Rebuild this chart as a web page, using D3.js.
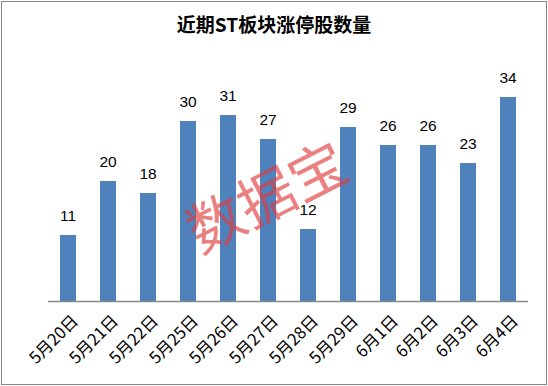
<!DOCTYPE html>
<html>
<head>
<meta charset="utf-8">
<script src="https://cdn.jsdelivr.net/npm/d3@7"></script>
<style>
  body { margin: 0; background: #fff; }
  svg { display: block; }
</style>
</head>
<body>
<script>
const categories = ["5月20日", "5月21日", "5月22日", "5月25日", "5月26日", "5月27日",
    "5月28日", "5月29日", "6月1日", "6月2日", "6月3日", "6月4日"];
const values = [11, 20, 18, 30, 31, 27, 12, 29, 26, 26, 23, 34];
const title = "近期ST板块涨停股数量";
const watermark = "数据宝";

const width = 548, height = 386;
const plot = { left: 48, right: 528, top: 91, bottom: 301 };

const svg = d3.select("body").append("svg")
    .attr("width", width)
    .attr("height", height);

svg.append("rect")
    .attr("x", 1.5).attr("y", 1.5)
    .attr("width", width - 3).attr("height", height - 3)
    .attr("fill", "#fff")
    .attr("stroke", "#868686");

const x = d3.scaleBand()
    .domain(categories)
    .range([plot.left, plot.right])
    .paddingInner(0.6)
    .paddingOuter(0.3);

const y = d3.scaleLinear()
    .domain([0, 35])
    .range([plot.bottom, plot.top]);

// bars
svg.selectAll("rect.bar")
    .data(values)
    .enter()
    .append("rect")
    .classed("bar", true)
    .attr("x", (d, i) => x(categories[i]))
    .attr("y", d => y(d))
    .attr("width", x.bandwidth())
    .attr("height", d => y(0) - y(d))
    .attr("fill", "#4f81bd");

// value labels
svg.selectAll("text.value")
    .data(values)
    .enter()
    .append("text")
    .classed("value", true)
    .attr("x", (d, i) => x(categories[i]) + x.bandwidth() / 2)
    .attr("y", d => y(d) - 14)
    .attr("text-anchor", "middle")
    .style("font-family", "'Liberation Sans', 'Noto Sans', sans-serif")
    .style("font-size", "15.5px")
    .attr("fill", "#000")
    .text(d => d);

// x axis
const xAxis = svg.append("g")
    .attr("transform", `translate(0,${plot.bottom})`)
    .call(d3.axisBottom(x).tickSize(0).tickPadding(0));

xAxis.select(".domain")
    .attr("stroke", "#868686")
    .attr("stroke-width", 1.5)
    .attr("d", `M${plot.left},0.5H${plot.right}`);

xAxis.selectAll(".tick text")
    .attr("text-anchor", "end")
    .attr("transform", "translate(7,17) rotate(-45)")
    .attr("dy", "0.35em")
    .attr("y", 0)
    .style("font-family", "'Noto Sans CJK SC', sans-serif")
    .style("font-size", "16.5px")
    .attr("fill", "#000");

// title
svg.append("text")
    .attr("x", 274)
    .attr("y", 32)
    .attr("text-anchor", "middle")
    .style("font-family", "'Noto Sans CJK SC', sans-serif")
    .style("font-weight", "bold")
    .style("font-size", "19px")
    .attr("fill", "#000")
    .text(title);

// watermark
svg.append("text")
    .attr("transform", "translate(267,198) rotate(-27)")
    .attr("text-anchor", "middle")
    .attr("dy", "0.35em")
    .style("font-family", "'Noto Sans CJK SC', sans-serif")
    .style("font-size", "57px")
    .attr("fill", "rgba(222, 60, 60, 0.65)")
    .text(watermark);
</script>
</body>
</html>
